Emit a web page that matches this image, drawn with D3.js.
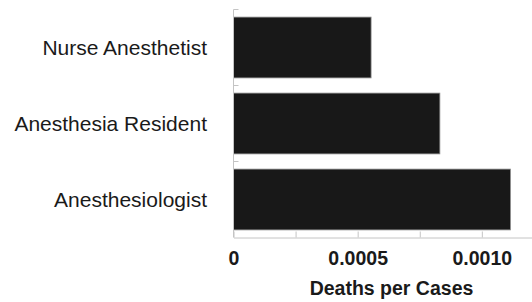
<!DOCTYPE html>
<html>
<head>
<meta charset="utf-8">
<script src="https://cdn.jsdelivr.net/npm/d3@7"></script>
<style>
  body { margin: 0; background: #fff; }
  svg { display: block; font-family: "Liberation Sans", Arial, sans-serif; }
</style>
</head>
<body>
<div id="chart"></div>
<script>
// Data
const categories = ['Nurse Anesthetist', 'Anesthesia Resident', 'Anesthesiologist']
const deathsPerCase = [0.000554, 0.000831, 0.001115]
const tickValues = [0, 0.00025, 0.0005, 0.00075, 0.001]
const tickLabels = ['0', '', '0.0005', '', '0.0010']

const dataset = categories.map((name, i) => ({ name, value: deathsPerCase[i] }))

// Dimensions
const dimensions = {
  width: 532,
  height: 302,
  left: 233.5,
  right: 531.5,
  top: 9.5,
  bottom: 237.5,
}

const svg = d3.select('#chart')
  .append('svg')
  .attr('width', dimensions.width)
  .attr('height', dimensions.height)

// Scales
const xScale = d3.scaleLinear()
  .domain([0, 0.0012])
  .range([dimensions.left, dimensions.right])

const yScale = d3.scaleBand()
  .domain(categories)
  .range([dimensions.top, dimensions.bottom])
  .paddingInner(0.2)
  .paddingOuter(0.1)

// Bars
svg.append('g')
  .selectAll('rect')
  .data(dataset)
  .join('rect')
  .attr('x', xScale(0))
  .attr('y', d => yScale(d.name))
  .attr('width', d => xScale(d.value) - xScale(0))
  .attr('height', yScale.bandwidth())
  .attr('fill', '#181818')
  .attr('stroke', '#8a8a8a')
  .attr('stroke-width', 0.8)

// Y axis (line + small category separator ticks)
const step = yScale.step()
const yAxis = svg.append('g')
yAxis.append('line')
  .attr('x1', dimensions.left).attr('x2', dimensions.left)
  .attr('y1', dimensions.top).attr('y2', dimensions.bottom)
  .attr('stroke', '#c4c4c4')
yAxis.selectAll('.sep')
  .data(categories)
  .join('line')
  .attr('class', 'sep')
  .attr('x1', dimensions.left).attr('x2', dimensions.left + 5)
  .attr('y1', d => yScale(d) - step * 0.1)
  .attr('y2', d => yScale(d) - step * 0.1)
  .attr('stroke', '#c4c4c4')

// Category labels
svg.append('g')
  .selectAll('text')
  .data(categories)
  .join('text')
  .attr('x', 207)
  .attr('y', d => yScale(d) + yScale.bandwidth() / 2)
  .attr('dy', '0.36em')
  .attr('text-anchor', 'end')
  .attr('font-size', 21)
  .attr('fill', '#1a1a1a')
  .text(d => d)

// X axis
const xAxis = d3.axisBottom(xScale)
  .tickValues(tickValues)
  .tickFormat((d, i) => tickLabels[i])
  .tickSizeInner(-6)
  .tickSizeOuter(0)

const xg = svg.append('g')
  .attr('transform', `translate(0, ${dimensions.bottom})`)
  .call(xAxis)

xg.select('.domain').attr('stroke', '#c4c4c4')
xg.selectAll('.tick line').attr('stroke', '#c4c4c4')
xg.selectAll('.tick text')
  .attr('y', 20)
  .attr('dy', '0.36em')
  .attr('font-size', 19.5)
  .attr('font-weight', 'bold')
  .attr('font-family', '"Liberation Sans", Arial, sans-serif')
  .attr('fill', '#1a1a1a')

// Axis title
svg.append('text')
  .attr('x', 391.5)
  .attr('y', 288)
  .attr('dy', '0.36em')
  .attr('text-anchor', 'middle')
  .attr('font-size', 19.5)
  .attr('font-weight', 'bold')
  .attr('fill', '#1a1a1a')
  .text('Deaths per Cases')
</script>
</body>
</html>
